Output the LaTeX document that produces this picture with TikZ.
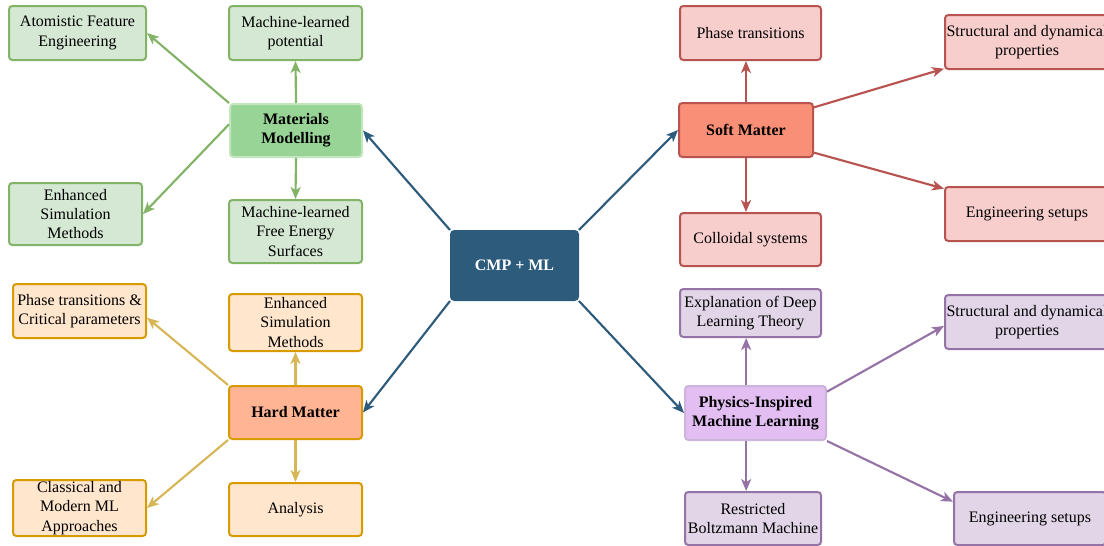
\documentclass[tikz,border=0pt]{standalone}
\usepackage{fontspec}
\setmainfont{Liberation Serif}
\usetikzlibrary{arrows.meta}

\definecolor{cmpblue}{HTML}{2D5B7C}
\definecolor{mmfill}{HTML}{97D496}
\definecolor{mmline}{HTML}{C3E6BE}
\definecolor{grfill}{HTML}{D5E8D4}
\definecolor{grline}{HTML}{82B366}
\definecolor{hmfill}{HTML}{FFB494}
\definecolor{orfill}{HTML}{FFE6CC}
\definecolor{orline}{HTML}{D79B00}
\definecolor{orarrow}{HTML}{D6B656}
\definecolor{smfill}{HTML}{F88F76}
\definecolor{rdfill}{HTML}{F8CECC}
\definecolor{rdline}{HTML}{B85450}
\definecolor{pifill}{HTML}{E2BEF2}
\definecolor{piline}{HTML}{CDB4DB}
\definecolor{pufill}{HTML}{E1D5E7}
\definecolor{puline}{HTML}{9673A6}

\begin{document}
\begin{tikzpicture}[x=0.75pt, y=-0.75pt,
    font=\fontsize{12pt}{14.5pt}\selectfont,
    box/.style={rectangle, rounded corners=2.5pt, line width=1.5pt, align=center, inner sep=1pt},
    arr/.style={line width=1.6pt, -{Stealth[length=9pt, width=7.5pt, inset=2.5pt]}}]
        \useasboundingbox (0,0) rectangle (1104,546);

        % centre
        \node[box, fill=cmpblue, draw=cmpblue, text=white, font=\fontsize{12pt}{14.5pt}\selectfont\bfseries,
            minimum width=95.25pt, minimum height=51.75pt] (cmp) at (514.5,265.5) {CMP + ML};

        % materials modelling
        \node[box, fill=mmfill, draw=mmline, font=\fontsize{12pt}{14.5pt}\selectfont\bfseries,
            minimum width=99pt, minimum height=39.75pt] (mm) at (296,130.5) {Materials\\Modelling};
        \node[box, fill=grfill, draw=grline, minimum width=102.75pt, minimum height=40.5pt] (afe) at (77.5,33) {Atomistic Feature\\Engineering};
        \node[box, fill=grfill, draw=grline, minimum width=99.75pt, minimum height=40.5pt] (mlp) at (295.5,33) {Machine-learned\\potential};
        \node[box, fill=grfill, draw=grline, minimum width=99.75pt, minimum height=46.5pt] (esm) at (75.5,214) {Enhanced\\Simulation\\Methods};
        \node[box, fill=grfill, draw=grline, minimum width=99.75pt, minimum height=47.25pt] (mlfes) at (295.5,231.5) {Machine-learned\\Free Energy\\Surfaces};

        % hard matter
        \node[box, fill=hmfill, draw=orline, font=\fontsize{12pt}{14.5pt}\selectfont\bfseries,
            minimum width=99.75pt, minimum height=39.75pt] (hm) at (295.5,412.5) {Hard Matter};
        \node[box, fill=orfill, draw=orline, minimum width=99.75pt, minimum height=40.5pt] (ptc) at (79.5,311) {Phase transitions \&\\Critical parameters};
        \node[box, fill=orfill, draw=orline, minimum width=99.75pt, minimum height=42.75pt] (esmh) at (295.5,322.5) {Enhanced\\Simulation\\Methods};
        \node[box, fill=orfill, draw=orline, minimum width=99.75pt, minimum height=42pt] (cma) at (79.5,508) {Classical and\\Modern ML\\Approaches};
        \node[box, fill=orfill, draw=orline, minimum width=99.75pt, minimum height=39.75pt] (ana) at (295.5,509.5) {Analysis};

        % soft matter
        \node[box, fill=smfill, draw=rdline, font=\fontsize{12pt}{14.5pt}\selectfont\bfseries,
            minimum width=100.5pt, minimum height=40.5pt] (sm) at (746,130) {Soft Matter};
        \node[box, fill=rdfill, draw=rdline, minimum width=105.75pt, minimum height=40.5pt] (pt) at (750.5,33) {Phase transitions};
        \node[box, fill=rdfill, draw=rdline, minimum width=105.75pt, minimum height=39.75pt] (cs) at (750.5,239.5) {Colloidal systems};
        \node[box, fill=rdfill, draw=rdline, minimum width=123pt, minimum height=40.5pt] (sdp) at (1027,42) {Structural and dynamical\\properties};
        \node[box, fill=rdfill, draw=rdline, minimum width=123pt, minimum height=40.5pt] (es) at (1027,214) {Engineering setups};

        % physics-inspired ML
        \node[box, fill=pifill, draw=piline, font=\fontsize{12pt}{14.5pt}\selectfont\bfseries,
            minimum width=105.75pt, minimum height=40.5pt] (piml) at (755.5,413) {Physics-Inspired\\Machine Learning};
        \node[box, fill=pufill, draw=puline, minimum width=105.75pt, minimum height=36pt] (edl) at (750.5,313) {Explanation of Deep\\Learning Theory};
        \node[box, fill=pufill, draw=puline, minimum width=102pt, minimum height=39.75pt] (rbm) at (753,518.5) {Restricted\\Boltzmann Machine};
        \node[box, fill=pufill, draw=puline, minimum width=123pt, minimum height=40.5pt] (sdpp) at (1027,322) {Structural and dynamical\\properties};
        \node[box, fill=pufill, draw=puline, minimum width=114pt, minimum height=39.75pt] (esp) at (1030,518.5) {Engineering setups};

        % centre arrows
        \draw[arr, cmpblue] (cmp.north west) -- (mm.east);
        \draw[arr, cmpblue] (cmp.south west) -- (hm.east);
        \draw[arr, cmpblue] (cmp.north east) -- (sm.west);
        \draw[arr, cmpblue] (cmp.south east) -- (piml.west);

        % green arrows
        \draw[arr, grline] (mm.north west) -- (afe.east);
        \draw[arr, grline] (mm.north) -- (mlp.south);
        \draw[arr, grline] ([yshift=-16pt]mm.north west) -- (esm.east);
        \draw[arr, grline] (mm.south) -- (mlfes.north);

        % orange arrows
        \draw[arr, orarrow] (hm.north west) -- ([yshift=-5pt]ptc.east);
        \draw[arr, orarrow] (hm.north) -- (esmh.south);
        \draw[arr, orarrow] (hm.south west) -- (cma.east);
        \draw[arr, orarrow] (hm.south) -- (ana.north);

        % red arrows
        \draw[arr, rdline] (sm.north) -- (sm.north |- pt.south);
        \draw[arr, rdline] (sm.south) -- (sm.south |- cs.north);
        \draw[arr, rdline] ([yshift=-4pt]sm.north east) -- ([yshift=1pt]sdp.south west);
        \draw[arr, rdline] ([yshift=4pt]sm.south east) -- ([yshift=-2pt]es.north west);

        % purple arrows
        \coordinate (pitop) at ([xshift=-7pt]piml.north);
        \coordinate (pibot) at ([xshift=-7pt]piml.south);
        \draw[arr, puline] ([yshift=-5pt]piml.north east) -- ([yshift=-3pt]sdpp.west);
        \draw[arr, puline] (pitop) -- (pitop |- edl.south);
        \draw[arr, puline] (piml.south east) -- ([yshift=-8pt]esp.north west);
        \draw[arr, puline] (pibot) -- (pibot |- rbm.north);

    \end{tikzpicture}
\end{document}
